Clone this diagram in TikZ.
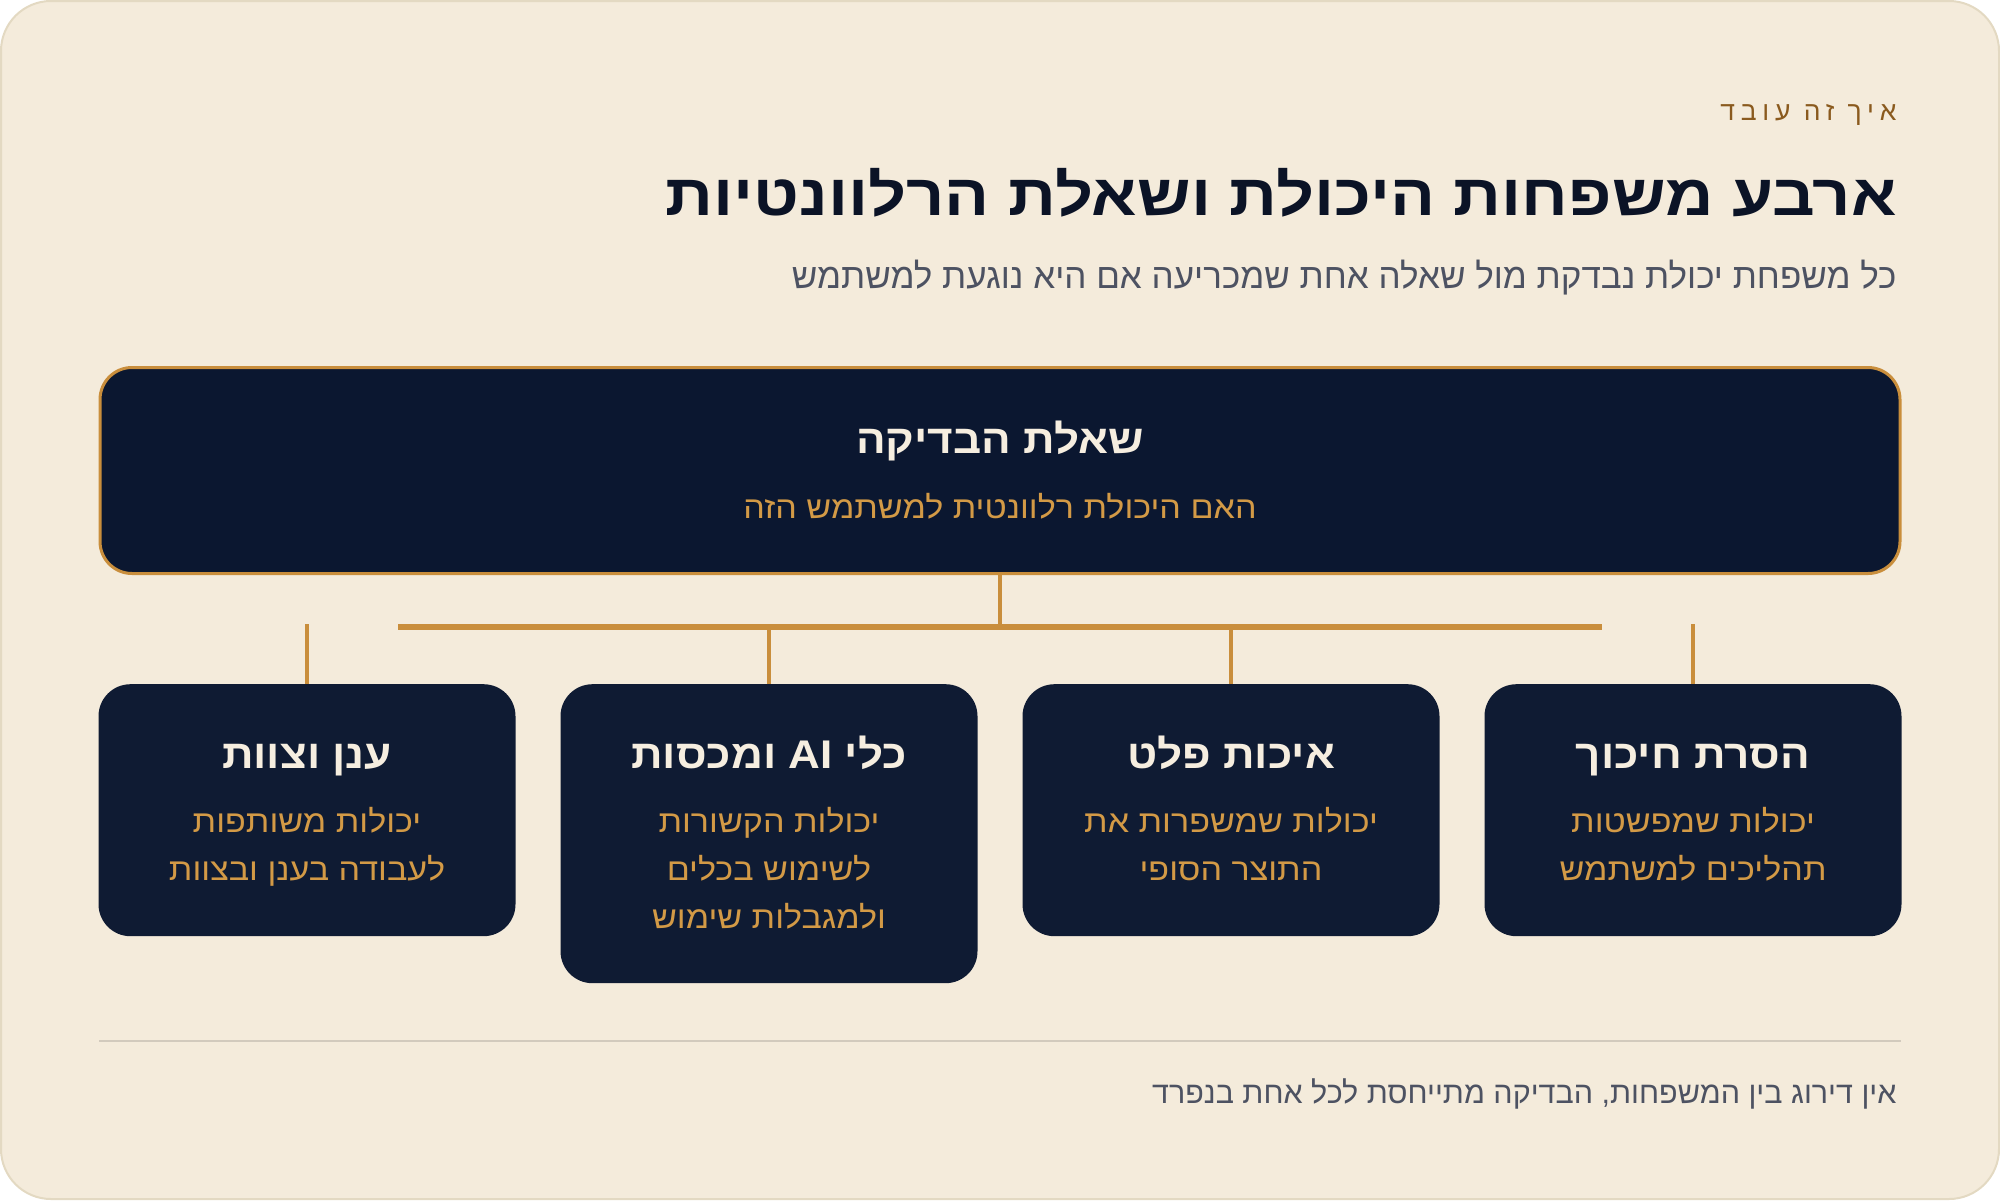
\documentclass[tikz,border=0pt]{standalone}
\usepackage{fontspec}
\usepackage{xcolor}
\TeXXeTstate=1
\newfontfamily\hebfont[Script=Hebrew,FakeStretch=1.1]{Liberation Sans}
\newfontfamily\headfont[Script=Hebrew,FakeStretch=1.15]{Liberation Sans}
\newfontfamily\plainfont[Script=Hebrew]{Liberation Sans}
\newfontfamily\kickfont[Script=Hebrew,LetterSpace=22]{Liberation Sans}
\definecolor{paper}{HTML}{F4EBDB}
\definecolor{paperline}{HTML}{E3D9C2}
\definecolor{navy}{HTML}{0B1730}
\definecolor{navyb}{HTML}{0F1B33}
\definecolor{gold}{HTML}{C98E3C}
\definecolor{goldtext}{HTML}{D39A46}
\definecolor{cream}{HTML}{F6EEE0}
\definecolor{ink}{HTML}{0B1326}
\definecolor{slate}{HTML}{4D5262}
\definecolor{brown}{HTML}{8A5A1E}
\definecolor{rule}{HTML}{D2CABD}
\newcommand{\heb}[1]{\beginR #1\endR}

\begin{document}
\begin{tikzpicture}[x=1pt,y=-1pt,
  family/.style={fill=navyb,rounded corners=32pt,minimum width=417pt,anchor=north,inner sep=0pt},
  famtitle/.style={anchor=base,text=cream,font=\hebfont\bfseries\fontsize{40}{42}\selectfont},
  famtext/.style={anchor=base,text=goldtext,font=\hebfont\fontsize{31}{33}\selectfont},
  link/.style={draw=gold,line width=4pt}]
\useasboundingbox (0,0) rectangle (2000,1200);
\draw[fill=paper,draw=paperline,line width=2pt,rounded corners=50pt](1,1) rectangle (1999,1199);
% header
\node (kicker) at (1900,120) [anchor=base east,text=brown,font=\kickfont\fontsize{26.5}{28}\selectfont]{\heb{איך זה עובד}};
\node (title) at (1900,215) [anchor=base east,text=ink,font=\headfont\bfseries\fontsize{58}{60}\selectfont]{\heb{ארבע משפחות היכולת ושאלת הרלוונטיות}};
\node (sub) at (1900,288) [anchor=base east,text=slate,font=\plainfont\fontsize{35}{37}\selectfont]{\heb{כל משפחת יכולת נבדקת מול שאלה אחת שמכריעה אם היא נוגעת למשתמש}};
% question box
\node (q) at (1000,470.5) [fill=navy,draw=gold,line width=3pt,rounded corners=32pt,minimum width=1800pt,minimum height=206pt]{};
\node (qt) at (1000,453) [famtitle]{\heb{שאלת הבדיקה}};
\node (qs) at (1000,518) [famtext]{\heb{האם היכולת רלוונטית למשתמש הזה}};
% families
\node (f1) at (307,684) [family,minimum height=252pt]{};
\node (f2) at (769,684) [family,minimum height=299pt]{};
\node (f3) at (1231,684) [family,minimum height=252pt]{};
\node (f4) at (1693,684) [family,minimum height=252pt]{};
\node (f1t) at (307,768) [famtitle]{\heb{ענן וצוות}};
\node (f1a) at (307,832) [famtext]{\heb{יכולות משותפות}};
\node (f1b) at (307,880) [famtext]{\heb{לעבודה בענן ובצוות}};
\node (f2t) at (769,768) [famtitle]{\heb{כלי \beginL AI\endL{} ומכסות}};
\node (f2a) at (769,832) [famtext]{\heb{יכולות הקשורות}};
\node (f2b) at (769,880) [famtext]{\heb{לשימוש בכלים}};
\node (f2c) at (769,928) [famtext]{\heb{ולמגבלות שימוש}};
\node (f3t) at (1231,768) [famtitle]{\heb{איכות פלט}};
\node (f3a) at (1231,832) [famtext]{\heb{יכולות שמשפרות את}};
\node (f3b) at (1231,880) [famtext]{\heb{התוצר הסופי}};
\node (f4t) at (1693,768) [famtitle]{\heb{הסרת חיכוך}};
\node (f4a) at (1693,832) [famtext]{\heb{יכולות שמפשטות}};
\node (f4b) at (1693,880) [famtext]{\heb{תהליכים למשתמש}};
% connectors
\coordinate (barL) at (398,627);
\coordinate (barR) at (1602,627);
\coordinate (tick) at (0,624);
\draw[link,line width=6pt] (barL) -- (barR);
\draw[link] (q.south) -- (q.south |- barL);
\draw[link] (f2.north) -- (f2.north |- barL);
\draw[link] (f3.north) -- (f3.north |- barL);
\draw[link] (f1.north) -- (f1.north |- tick);
\draw[link] (f4.north) -- (f4.north |- tick);
% footer
\draw[rule,line width=1.5pt] (99,1041) coordinate (ruleL) -- (1901,1041) coordinate (ruleR);
\node (foot) at (1900,1103) [anchor=base east,text=slate,font=\plainfont\fontsize{30.5}{32}\selectfont]{\heb{אין דירוג בין המשפחות, הבדיקה מתייחסת לכל אחת בנפרד}};
\end{tikzpicture}
\end{document}
